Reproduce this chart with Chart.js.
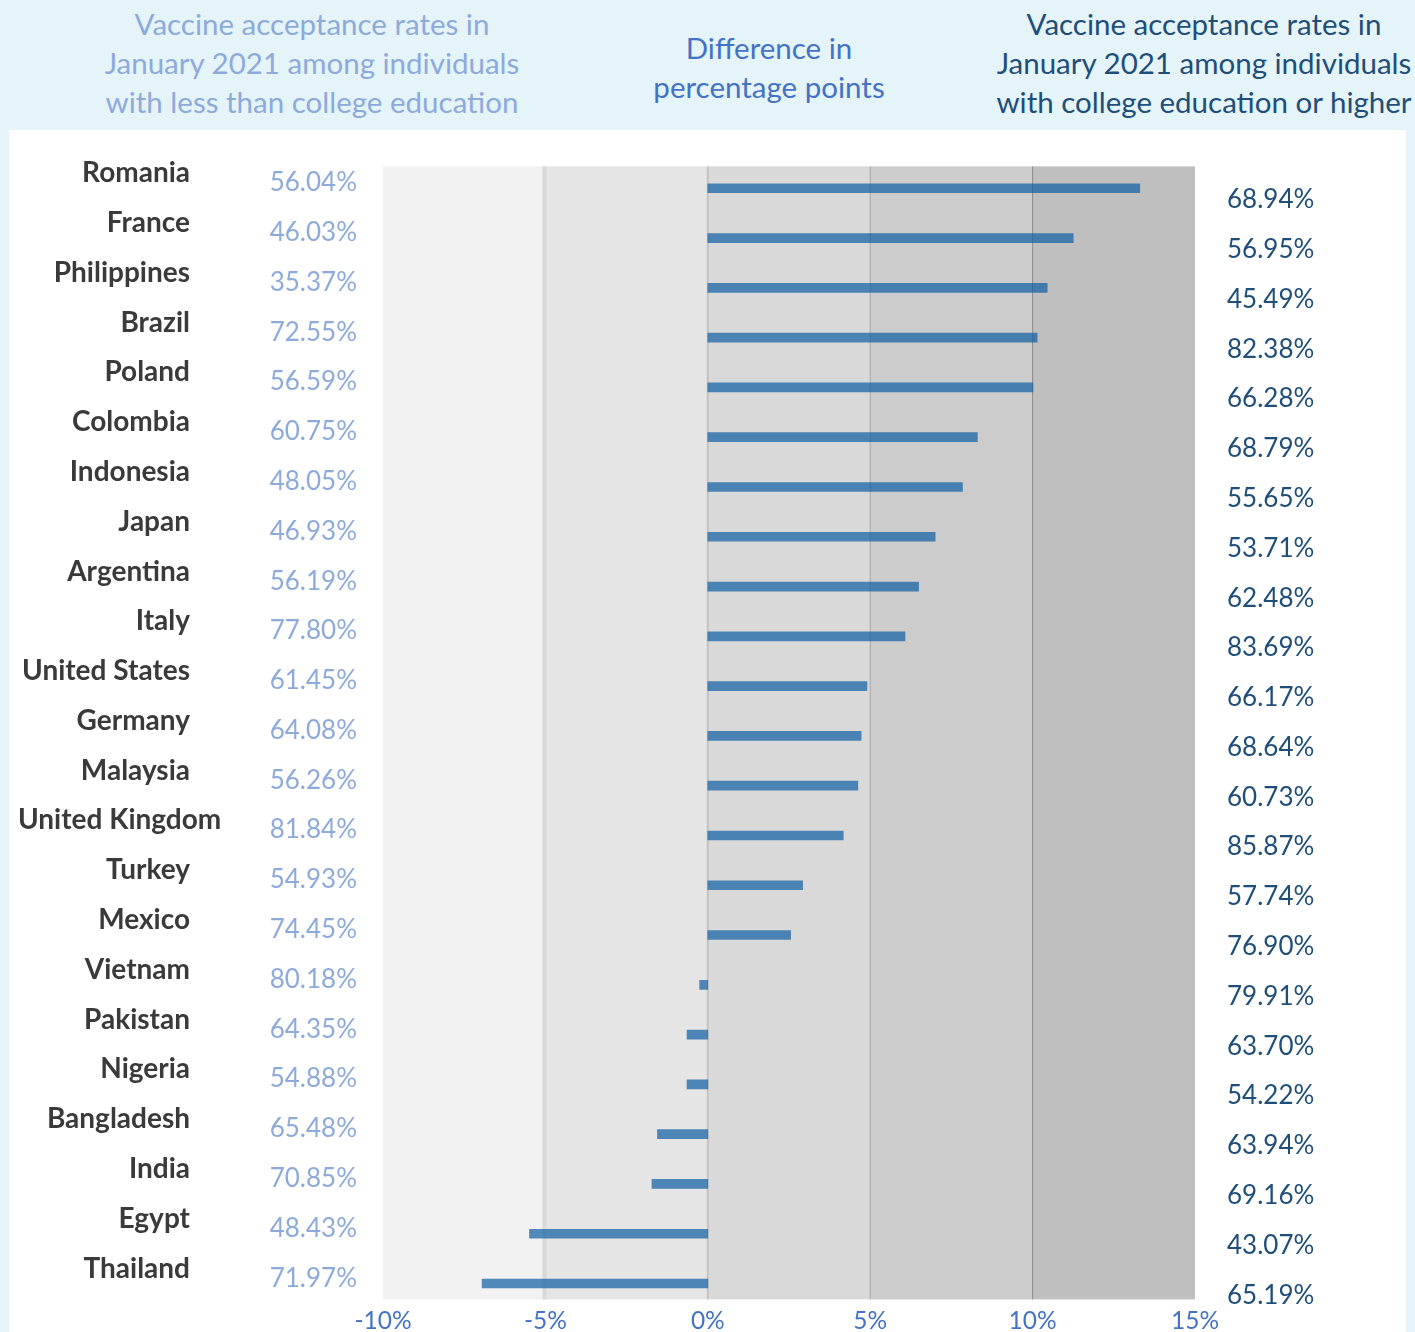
<!DOCTYPE html>
<html>
<head>
<meta charset="utf-8">
<script src="https://cdn.jsdelivr.net/npm/chart.js@4.4.1/dist/chart.umd.min.js"></script>
<style>
  html, body { margin:0; padding:0; }
  body { width:1415px; height:1332px; background:#e4f4f9; position:relative; overflow:hidden; font-family:Lato, "Open Sans", sans-serif; }
  #panel { position:absolute; left:9px; top:130px; width:1397px; height:1202px; background:#ffffff; }
  .hdr { position:absolute; font-family:Lato, sans-serif; font-size:29.5px; line-height:39px; text-align:center; white-space:nowrap; width:600px; }
  #hLeft { left:12px; top:4px; color:#8eaadb; }
  #hMid { left:469px; top:28px; color:#4472c4; }
  #hRight { left:904px; top:4px; color:#1f4e79; }
  #c { position:absolute; left:0; top:0; }
</style>
</head>
<body>
<div id="panel"></div>
<div class="hdr" id="hLeft">Vaccine acceptance rates in<br>January 2021 among individuals<br>with less than college education</div>
<div class="hdr" id="hMid">Difference in<br>percentage points</div>
<div class="hdr" id="hRight">Vaccine acceptance rates in<br>January 2021 among individuals<br>with college education or higher</div>
<canvas id="c" width="1415" height="1332"></canvas>
<script>
const countries = ["Romania","France","Philippines","Brazil","Poland","Colombia","Indonesia","Japan","Argentina","Italy","United States","Germany","Malaysia","United Kingdom","Turkey","Mexico","Vietnam","Pakistan","Nigeria","Bangladesh","India","Egypt","Thailand"];
const lessThanCollege = [56.04,46.03,35.37,72.55,56.59,60.75,48.05,46.93,56.19,77.80,61.45,64.08,56.26,81.84,54.93,74.45,80.18,64.35,54.88,65.48,70.85,48.43,71.97];
const collegeOrHigher = [68.94,56.95,45.49,82.38,66.28,68.79,55.65,53.71,62.48,83.69,66.17,68.64,60.73,85.87,57.74,76.90,79.91,63.70,54.22,63.94,69.16,43.07,65.19];
const differencePts = [13.30,11.25,10.45,10.14,10.01,8.30,7.84,7.00,6.49,6.07,4.90,4.72,4.62,4.17,2.92,2.55,-0.25,-0.64,-0.64,-1.55,-1.72,-5.49,-6.95];
const xTickValues = [-10,-5,0,5,10,15];
const bandColors = ["#f2f2f2","#e5e5e5","#d9d9d9","#cccccc","#bfbfbf"];

const bandsPlugin = {
  id: 'bands',
  beforeDatasetsDraw(chart) {
    const {ctx, chartArea, scales} = chart;
    const x = scales.x;
    const top = chartArea.top + 3, bottom = chartArea.bottom - 9;
    ctx.save();
    for (let i = 0; i < xTickValues.length - 1; i++) {
      const x0 = x.getPixelForValue(xTickValues[i]);
      const x1 = x.getPixelForValue(xTickValues[i+1]);
      ctx.fillStyle = bandColors[i];
      ctx.fillRect(x0, top, x1 - x0, bottom - top);
    }
    const lines = [[-5, 4, "#d9d9d9"], [0, 2, "#c2c2c2"], [5, 1, "#a6a6a6"], [10, 1, "#8a8a8a"]];
    lines.forEach(([v, w, c]) => {
      const px = x.getPixelForValue(v);
      ctx.fillStyle = c;
      ctx.fillRect(v === -5 ? px - 3 : px - w/2, top, w, bottom - top);
    });
    ctx.restore();
  }
};

const labelsPlugin = {
  id: 'sideLabels',
  afterDatasetsDraw(chart) {
    const {ctx, scales} = chart;
    const y = scales.y;
    ctx.save();
    ctx.textBaseline = 'alphabetic';
    countries.forEach((name, i) => {
      const yc = y.getPixelForValue(i);
      ctx.font = 'bold 28px Lato';
      ctx.fillStyle = '#3a3a3a';
      ctx.textAlign = 'right';
      const w = ctx.measureText(name).width;
      ctx.fillText(name, Math.max(190, 18 + w), yc - 6);
      ctx.font = '26px Lato';
      ctx.fillStyle = '#8eaadb';
      ctx.textAlign = 'right';
      ctx.fillText(lessThanCollege[i].toFixed(2) + '%', 357, yc + 3);
      ctx.fillStyle = '#1f4e79';
      ctx.textAlign = 'left';
      ctx.fillText(collegeOrHigher[i].toFixed(2) + '%', 1227, yc + 20);
    });
    ctx.restore();
  }
};

new Chart(document.getElementById('c'), {
  type: 'bar',
  data: {
    labels: countries,
    datasets: [{
      data: differencePts,
      backgroundColor: 'rgba(20,95,165,0.72)',
      borderWidth: 0,
      barThickness: 9
    }]
  },
  options: {
    indexAxis: 'y',
    responsive: false,
    devicePixelRatio: 1,
    animation: false,
    layout: { padding: { left: 383, right: 220, top: 163.4, bottom: 0 } },
    plugins: { legend: { display: false }, tooltip: { enabled: false } },
    scales: {
      y: { display: false },
      x: {
        min: -10, max: 15,
        afterFit: s => { s.height = 23.6; },
        afterBuildTicks: s => { s.ticks = xTickValues.map(v => ({ value: v })); },
        grid: { display: false, drawTicks: false },
        border: { display: false },
        ticks: {
          padding: -2,
          color: '#4472c4',
          font: { family: 'Lato', size: 24.5 },
          callback: v => v + '%'
        }
      }
    }
  },
  plugins: [bandsPlugin, labelsPlugin]
});
</script>
</body>
</html>
